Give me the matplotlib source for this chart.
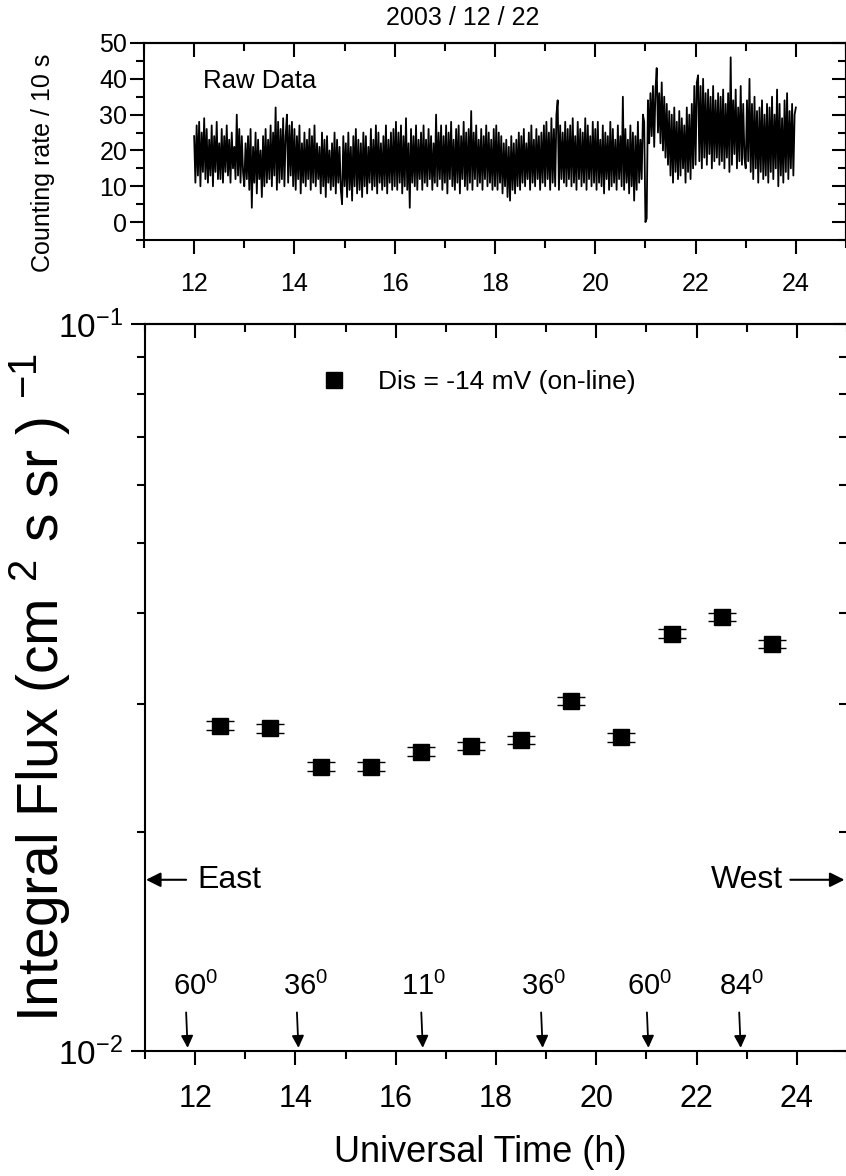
import numpy as np
import matplotlib
matplotlib.use('Agg')
import matplotlib.pyplot as plt
from matplotlib.ticker import MultipleLocator, NullFormatter, LogLocator

plt.rcParams['font.family'] = ['Liberation Sans', 'DejaVu Sans']
plt.rcParams['mathtext.fontset'] = 'custom'
plt.rcParams['mathtext.rm'] = 'Liberation Sans'
plt.rcParams['mathtext.it'] = 'Liberation Sans:italic'
plt.rcParams['mathtext.default'] = 'regular'

# raw counts / 10 s, every 0.025 h from 12:00 to 24:00
raw_counts = [
    24, 11, 27, 13, 28, 10, 25, 14, 29, 12, 26, 11, 23, 13, 27, 10, 24, 14, 28, 12,
    22, 12, 26, 11, 24, 14, 27, 13, 23, 11, 25, 15, 21, 12, 30, 13, 26, 11, 24, 14,
    10, 22, 12, 24, 9, 26, 4, 21, 11, 25, 8, 23, 12, 20, 7, 24, 10, 26, 11, 23,
    12, 27, 10, 25, 13, 32, 9, 28, 11, 26, 12, 29, 10, 24, 30, 11, 27, 13, 28, 10,
    26, 9, 24, 12, 27, 8, 22, 11, 25, 10, 23, 12, 26, 9, 24, 11, 27, 10, 22, 12,
    21, 8, 25, 10, 23, 7, 24, 11, 20, 9, 22, 10, 25, 8, 23, 11, 21, 9, 5, 24,
    10, 22, 7, 25, 9, 21, 6, 24, 10, 26, 8, 23, 9, 22, 7, 25, 10, 24, 8, 21,
    11, 26, 9, 23, 10, 27, 8, 25, 11, 22, 9, 24, 10, 27, 8, 23, 11, 25, 9, 26,
    10, 28, 9, 25, 11, 27, 8, 24, 10, 29, 9, 22, 4, 26, 11, 24, 10, 27, 9, 23,
    12, 25, 9, 27, 11, 23, 10, 26, 12, 24, 9, 22, 11, 30, 10, 25, 12, 27, 9, 24,
    11, 27, 8, 25, 12, 28, 10, 23, 9, 26, 11, 27, 8, 24, 12, 28, 10, 25, 9, 26,
    11, 31, 9, 25, 12, 27, 10, 23, 11, 26, 9, 24, 12, 27, 10, 25, 11, 23, 9, 26,
    10, 27, 9, 25, 11, 24, 8, 22, 10, 23, 7, 21, 6, 24, 9, 22, 8, 23, 10, 25,
    9, 24, 11, 26, 10, 22, 12, 25, 9, 27, 11, 23, 10, 26, 12, 24, 9, 25, 11, 27,
    10, 28, 12, 25, 9, 29, 11, 26, 10, 30, 34, 9, 27, 12, 25, 11, 28, 10, 26, 12,
    27, 10, 29, 11, 24, 9, 28, 12, 26, 10, 25, 11, 29, 9, 27, 12, 24, 10, 28, 11,
    26, 9, 28, 11, 23, 10, 27, 8, 25, 12, 24, 9, 28, 10, 26, 11, 23, 9, 27, 12,
    24, 10, 35, 9, 26, 11, 23, 8, 27, 10, 25, 6, 24, 9, 28, 11, 23, 12, 30, 28,
    0, 1, 34, 22, 36, 24, 38, 21, 37, 43, 25, 36, 22, 39, 20, 35, 18, 33, 16, 31,
    13, 30, 11, 32, 14, 28, 12, 31, 13, 29, 15, 27, 11, 32, 14, 30, 12, 33, 15, 38,
    16, 39, 41, 17, 38, 15, 40, 18, 36, 16, 37, 19, 35, 15, 38, 17, 34, 18, 36, 16,
    35, 17, 37, 15, 33, 18, 36, 14, 46, 16, 34, 19, 37, 15, 32, 17, 38, 16, 33, 18,
    15, 34, 17, 40, 14, 33, 12, 35, 15, 31, 11, 32, 14, 34, 12, 30, 13, 33, 11, 32,
    14, 35, 12, 30, 15, 37, 10, 33, 13, 29, 11, 34, 14, 36, 12, 31, 15, 33, 13, 30,
    32,
]
raw_time = np.linspace(12, 24, len(raw_counts))

# integral flux (bottom panel)
flux_time = [12.5, 13.5, 14.5, 15.5, 16.5, 17.5, 18.5, 19.5, 20.5, 21.5, 22.5, 23.5]
flux = [0.0280, 0.0278, 0.0246, 0.0246, 0.0258, 0.0263, 0.0268, 0.0303, 0.0270,
        0.0375, 0.0395, 0.0363]
flux_err = [0.0004, 0.0004, 0.00035, 0.00035, 0.00035, 0.00035, 0.00035, 0.0004,
            0.00035, 0.0005, 0.0005, 0.00045]

# zenith angles marked along the time axis
angle_labels = ['60', '36', '11', '36', '60', '84']
angle_time = [11.85, 14.06, 16.54, 18.93, 21.04, 22.88]
angle_text_time = [12.0, 14.2, 16.55, 18.94, 21.07, 22.9]

W, H = 846, 1176
fig = plt.figure(figsize=(W / 100, H / 100), dpi=100)

def frame(ax, major, minor, sec_y=None):
    for s in ax.spines.values():
        s.set_linewidth(1.5)
    ax.tick_params(which='major', direction='out', length=10, width=1.5)
    ax.tick_params(which='minor', direction='out', length=6, width=1.5)
    ax.tick_params(top=False, right=False)
    top = ax.secondary_xaxis('top')
    top.xaxis.set_major_locator(MultipleLocator(major))
    top.xaxis.set_minor_locator(MultipleLocator(minor))
    top.xaxis.set_major_formatter(NullFormatter())
    top.tick_params(which='major', direction='in', length=10, width=1.5)
    top.tick_params(which='minor', direction='in', length=6, width=1.5)
    right = ax.secondary_yaxis('right')
    if sec_y is not None:
        sec_y(right)
    right.yaxis.set_major_formatter(NullFormatter())
    right.yaxis.set_minor_formatter(NullFormatter())
    right.tick_params(which='major', direction='in', length=10, width=1.5)
    right.tick_params(which='minor', direction='in', length=6, width=1.5)
    for a in (top, right):
        for s in a.spines.values():
            s.set_linewidth(1.5)

# ---- top panel: raw data
ax1 = fig.add_axes([144 / W, 1 - 240 / H, 702 / W, 197 / H])
ax1.plot(raw_time, raw_counts, color='k', lw=1.3)
ax1.set_xlim(11, 25)
ax1.set_ylim(-5, 50)
ax1.xaxis.set_major_locator(MultipleLocator(2))
ax1.xaxis.set_minor_locator(MultipleLocator(1))
ax1.yaxis.set_major_locator(MultipleLocator(10))
ax1.yaxis.set_minor_locator(MultipleLocator(5))

def lin_right(a):
    a.yaxis.set_major_locator(MultipleLocator(10))
    a.yaxis.set_minor_locator(MultipleLocator(5))

frame(ax1, 2, 1, lin_right)
ax1.tick_params(axis='x', labelsize=18, pad=13)
ax1.tick_params(axis='y', labelsize=18, pad=2)
ax1.set_ylabel('Counting rate / 10 s', fontsize=18)
ax1.yaxis.set_label_coords(-0.127, 0.39)
ax1.text(12.17, 37.4, 'Raw Data', fontsize=18.5, va='baseline')
ax1.text(0.454, 1.091, '2003 / 12 / 22', transform=ax1.transAxes,
         ha='center', va='baseline', fontsize=18)

# ---- bottom panel: integral flux
ax2 = fig.add_axes([145 / W, 1 - 1051 / H, 702 / W, 727 / H])
ax2.set_yscale('log')
ax2.errorbar(flux_time, flux, yerr=flux_err, fmt='none', ecolor='k',
             elinewidth=1.0, capsize=10, capthick=1.0, zorder=2)
ax2.plot(flux_time, flux, 's', color='k', ms=11.5, zorder=3,
         label='Dis = -14 mV (on-line)')
ax2.set_xlim(11, 25)
ax2.set_ylim(0.01, 0.1)
ax2.xaxis.set_major_locator(MultipleLocator(2))
ax2.xaxis.set_minor_locator(MultipleLocator(1))
ax2.yaxis.set_minor_locator(LogLocator(subs=np.arange(2, 10)))
ax2.yaxis.set_minor_formatter(NullFormatter())

def log_right(a):
    a.yaxis.set_minor_locator(LogLocator(subs=np.arange(2, 10)))

frame(ax2, 2, 1, log_right)
ax2.tick_params(axis='x', labelsize=22, pad=14)
ax2.tick_params(axis='y', labelsize=24, pad=6)
ax2.set_xlabel('Universal Time (h)', fontsize=26)
ax2.xaxis.set_label_coords(0.478, -0.115)
ax2.set_ylabel('Integral Flux (cm $^{2}$ s sr ) $^{-1}$', fontsize=41)
ax2.yaxis.set_label_coords(-0.102, 0.5)

ax2.legend(loc='center left', bbox_to_anchor=(0.2506, 0.92), frameon=False,
           fontsize=19, handlelength=1.0, handletextpad=1.15, numpoints=1,
           borderpad=0, borderaxespad=0)

# East / West
y_ew = 0.0172
arrow = dict(arrowstyle='-|>', color='k', lw=1.5, mutation_scale=22,
             shrinkA=0, shrinkB=0)
ax2.annotate('', xy=(11.02, y_ew), xytext=(11.82, y_ew), arrowprops=arrow)
ax2.text(12.04, y_ew, 'East', fontsize=23, va='center', ha='left')
ax2.annotate('', xy=(24.95, y_ew), xytext=(23.87, y_ew), arrowprops=arrow)
ax2.text(23.73, y_ew, 'West', fontsize=23, va='center', ha='right')

# zenith angle arrows
for lab, t, tt in zip(angle_labels, angle_time, angle_text_time):
    ax2.annotate('', xy=(t, 0.0101), xytext=(t - 0.03, 0.0113),
                 arrowprops=dict(arrowstyle='-|>', color='k', lw=1.3,
                                 mutation_scale=18, shrinkA=0, shrinkB=0))
    ax2.text(tt, 0.01194, lab + '$^{0}$', fontsize=21, ha='center',
             va='baseline')

fig.savefig('out.png', dpi=100)
